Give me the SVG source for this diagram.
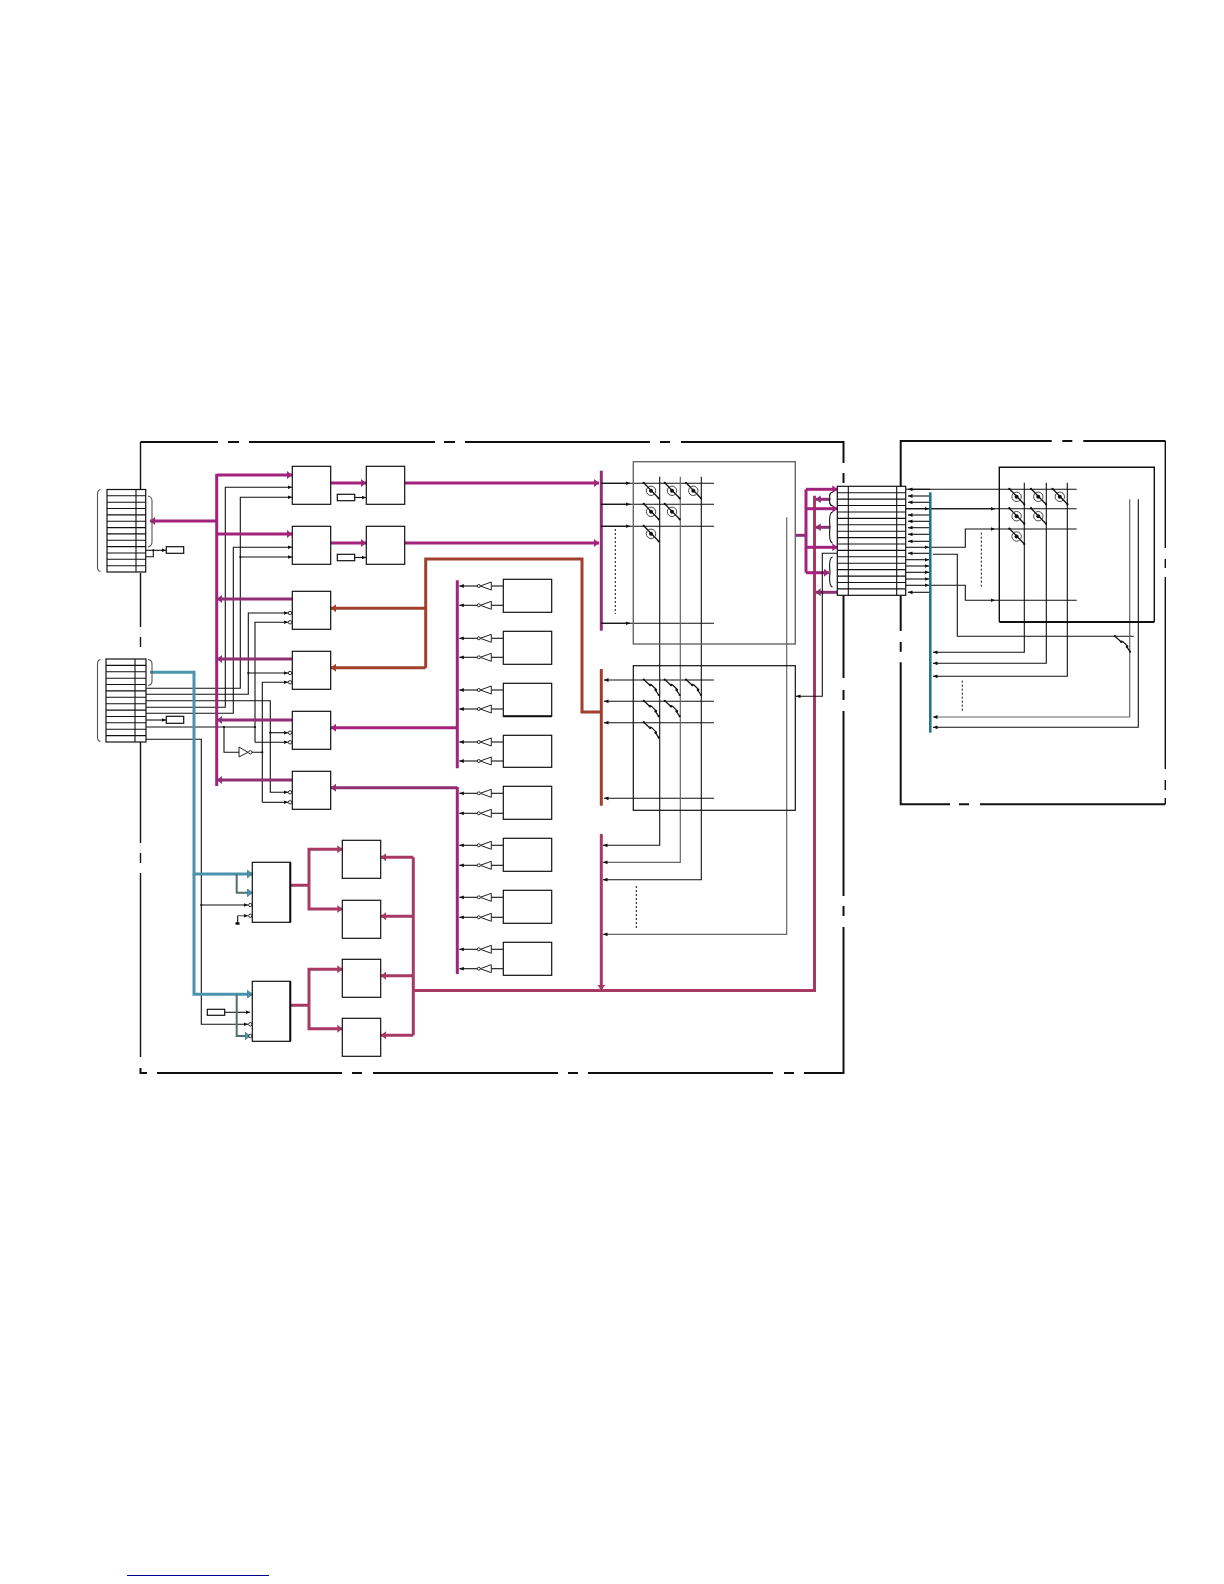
<svg xmlns="http://www.w3.org/2000/svg" width="1224" height="1584" viewBox="0 0 1224 1584">
<style>
.box{fill:#fff;stroke:#111;stroke-width:1.2}
.gbox{fill:none;stroke:#666;stroke-width:1.4}
.tbox{fill:none;stroke:#111;stroke-width:1.2}
.grid{fill:none;stroke:#111;stroke-width:1.1}
.frame{fill:none;stroke:#111;stroke-width:2}
.frt{fill:none;stroke:#111;stroke-width:1.4}
.brk{fill:none;stroke:#555;stroke-width:1.1}
.t{fill:none;stroke:#111;stroke-width:1.1}
.ta{fill:none;stroke:#111;stroke-width:1.1;marker-end:url(#ah)}
.tga{fill:none;stroke:#666;stroke-width:1.2;marker-end:url(#ah)}
.dot{fill:#111}
.bub{fill:#fff;stroke:#111;stroke-width:.9}
.m{fill:none;stroke:#a3237c;stroke-width:3}
.ma{fill:none;stroke:#a3237c;stroke-width:3;marker-end:url(#am)}
.md{fill:none;stroke:#8f2f74;stroke-width:3}
.mda{fill:none;stroke:#8f2f74;stroke-width:3;marker-end:url(#amd)}
.b{fill:none;stroke:#a0402c;stroke-width:3}
.ba{fill:none;stroke:#a0402c;stroke-width:3;marker-end:url(#ab)}
.r{fill:none;stroke:#a63a64;stroke-width:3}
.ra{fill:none;stroke:#a63a64;stroke-width:3;marker-end:url(#ar)}
.u{fill:none;stroke:#4a94ae;stroke-width:3}
.ua{fill:none;stroke:#4a94ae;stroke-width:3;marker-end:url(#au)}
.uga{fill:none;stroke:#4f6f72;stroke-width:2;marker-end:url(#au)}
.dash{fill:none;stroke:#111;stroke-width:1;stroke-dasharray:2 2}
.gate{fill:#fff;stroke:#222;stroke-width:1}
</style>
<defs>
<marker id="ah" markerUnits="userSpaceOnUse" markerWidth="5" markerHeight="5" refX="4.500" refY="2.500" orient="auto"><path d="M0 .6L4.500 2.500L0 4.400z" fill="#111"/></marker>
<marker id="am" markerUnits="userSpaceOnUse" markerWidth="6" markerHeight="8" refX="5" refY="4" orient="auto"><path d="M0 0L5 4L0 8z" fill="#a3237c"/></marker>
<marker id="amd" markerUnits="userSpaceOnUse" markerWidth="6" markerHeight="8" refX="5" refY="4" orient="auto"><path d="M0 0L5 4L0 8z" fill="#8f2f74"/></marker>
<marker id="ab" markerUnits="userSpaceOnUse" markerWidth="6" markerHeight="8" refX="5" refY="4" orient="auto"><path d="M0 0L5 4L0 8z" fill="#a0402c"/></marker>
<marker id="ar" markerUnits="userSpaceOnUse" markerWidth="6" markerHeight="8" refX="5" refY="4" orient="auto"><path d="M0 0L5 4L0 8z" fill="#a63a64"/></marker>
<marker id="au" markerUnits="userSpaceOnUse" markerWidth="6" markerHeight="8" refX="5" refY="4" orient="auto"><path d="M0 0L5 4L0 8z" fill="#4a94ae" stroke="#2f6070" stroke-width=".5"/></marker>
<g id="cell"><path d="M-16-.5L-1 15" fill="none" stroke="#111" stroke-width="1.300"/><circle cx="-8.700" cy="7.500" r="4.700" fill="none" stroke="#333" stroke-width=".9"/><circle cx="-8.700" cy="7.500" r="2" class="dot"/><circle cx="-16" cy="-.5" r="1.100" class="dot"/><circle cx="-1" cy="15" r="1.100" class="dot"/></g>
<g id="sw"><path d="M-16-.5L-9.500 5.500M-8.500 4.500L-3 10M-4 10.500L-1 15" fill="none" stroke="#111" stroke-width="1.200"/><circle cx="-9.500" cy="5" r="1.300" class="dot"/><circle cx="-4" cy="10" r="1.300" class="dot"/><circle cx="-16" cy="-.5" r="1.100" class="dot"/><circle cx="-1" cy="15" r="1.100" class="dot"/></g>
<g id="drv"><path d="M0 0H-12" class="t"/><path d="M-12-4V4L-23 0z" class="gate"/><circle cx="-24.500" cy="0" r="1.500" class="bub"/><path d="M-26 0H-44" class="ta"/></g>
<circle id="bb" r="1.700" class="bub"/>
<circle id="nd" r="1.100" class="dot"/>
</defs>

<g id="frames">
<path class="frame" d="M140.500 442H218M228 442H239M249 442H435M444 442H455M465 442H650M660 442H670M681 442H843.500V463M843.500 473V483M843.500 595V678M843.500 690V700M843.500 711V896M843.500 906V916M843.500 927V1073H804M794 1073H784M773 1073H588M578 1073H568M558 1073H373M362 1073H352M342 1073H157M147 1073H140.500V1068"/>
<path class="frt" d="M140.500 442V490M140.500 573V627M140.500 637V647M140.500 742V843M140.500 853V863M140.500 873V1057"/>
<path class="frame" d="M900.700 486V441H1051.700M1062.300 441H1072.300M1083.300 441H1165.500M900.700 595.700V631M900.700 642V651.700M900.700 662.300V804.300H950M959 804.300H969M980 804.300H1165.300"/>
<path class="frt" d="M1165.300 441V548M1165.300 559V568M1165.300 577V769M1165.300 780V790M1165.300 798V804.300"/>
<path d="M127 1575.500H269" fill="none" stroke="#00008b" stroke-width="1.200"/>
</g>

<g id="connectors">
<path class="ta" d="M146 688.300H240.300V497.300H292"/>
<path class="ta" d="M240.300 557H292"/>
<path class="ta" d="M146 694.300H248.300V613H288"/>
<path class="ta" d="M248.300 673H288"/>
<path class="ta" d="M146 700.700H270.300V792.300H288"/>
<path class="ta" d="M270.300 732.700H288"/>
<path class="ta" d="M146 707.300H225.300V487.300H292"/>
<path class="ta" d="M146 713.300H233.300V547.300H292"/>
<path class="ta" d="M146 720H166"/>
<path class="t" d="M146 727H255"/>
<path class="ta" d="M255 742.300V622.300H288"/>
<path class="ta" d="M255 742.300H288"/>
<path class="t" d="M224 727V752.300H239M252 752.300H262.300"/>
<path class="ta" d="M262.300 802.300V682.300H288"/>
<path class="ta" d="M262.300 802.300H288"/>
<path class="ta" d="M146 739.300H201.300V1024.300H248"/>
<path class="ta" d="M201.300 905H248"/>
<path class="ta" d="M146 550.300H166"/>
<path class="t" d="M146 556.700H153.300V550.300"/>
<path class="ta" d="M354.700 497.500H366"/>
<path class="ta" d="M354.700 557.500H366"/>
<path class="ta" d="M224.700 1012.300H250"/>
<path class="t" d="M237.700 923.300V915.700"/>
<path class="tga" d="M237.700 915.700H248"/>
<path d="M235.500 923.500H239.500" stroke="#111" stroke-width="2.500"/>
<path class="m" d="M216.700 474V786"/>
<path class="ma" d="M216.700 475H292"/>
<path class="ma" d="M216.700 534H292"/>
<path class="ma" d="M216.700 521H150"/>
<path class="mda" d="M292 599H217"/>
<path class="mda" d="M292 659H217"/>
<path class="mda" d="M292 720H217"/>
<path class="mda" d="M292 780H217"/>
<path class="ma" d="M330.700 483H366"/>
<path class="ma" d="M330.700 543H366"/>
<path class="ma" d="M404.700 483H599"/>
<path class="ma" d="M404.700 543H599"/>
<path class="ba" d="M425.700 608.300H331"/>
<path class="ba" d="M425.700 667.700H331"/>
<path class="b" d="M425.700 667.700V559H582V712H601"/>
<path class="ma" d="M457.300 727.700H331"/>
<path class="mda" d="M457.300 787.700H331"/>
<path class="m" d="M457.300 580.300V768.300M457.300 787V974"/>
<path class="md" d="M601.300 470.700V630.700"/>
<path class="b" d="M601.300 669V805.700"/>
<path class="ra" d="M601.300 834V990"/>
<path class="ua" d="M150 672.300H194V874H252.300"/>
<path class="ua" d="M194 874V994.300H252.300"/>
<path class="uga" d="M236.700 874V892.700H252.300"/>
<path class="uga" d="M236.700 994.300V1036H250"/>
<path class="r" d="M290 885.300H309M290 1005.300H309"/>
<path class="ra" d="M309 885.300V849.300H342.300"/>
<path class="ra" d="M309 885.300V909H342.300"/>
<path class="ra" d="M309 1005.300V969.300H342.300"/>
<path class="ra" d="M309 1005.300V1028.700H342.300"/>
<path class="ra" d="M413.300 857.300H381"/>
<path class="ra" d="M413.300 916.300H381"/>
<path class="ra" d="M413.300 975.700H381"/>
<path class="ra" d="M413.300 1035.300H381"/>
<path class="r" d="M413.300 857.300V1035.300M413.300 990.500H814.500V495.700"/>
<path class="t" d="M601 483.300H714M601 504.300H714M601 526.300H714M601 623.300H714"/>
<path class="ta" d="M601 483.300H630"/>
<path class="ta" d="M601 504.300H630"/>
<path class="ta" d="M601 526.300H630"/>
<path class="ta" d="M601 623.300H630"/>
<path class="dash" d="M615.300 529V614"/>
<path class="ta" d="M714 680H604"/>
<path class="ta" d="M714 701.300H604"/>
<path class="ta" d="M714 722.700H604"/>
<path class="ta" d="M714 798.300H604"/>
<path class="ta" d="M659.700 476.700V845.300H603"/>
<path class="tga" d="M680.300 476.700V862.300H603"/>
<path class="ta" d="M701.300 476.700V879.700H603"/>
<path class="tga" d="M786.700 517.300V934.300H603"/>
<path class="dash" d="M636.300 886V928"/>
<path class="md" d="M795 535.300H806"/>
<path class="m" d="M806 489.300V572.700"/>
<path class="ma" d="M806 489.300H837.300"/>
<path class="ma" d="M806 508.700H837.300"/>
<path class="ma" d="M806 547.300H837.300"/>
<path class="ma" d="M806 572.700H829"/>
<path class="mda" d="M830 499.300H815.700"/>
<path class="mda" d="M830 527.300H815.700"/>
<path class="mda" d="M837.300 592.300H815.700"/>
<path class="ta" d="M837.300 553.300H822.300V696.300H796"/>
<path class="t" d="M906 489.300H1076.700M906 508.700H1076.700"/>
<path class="ta" d="M930 489.300H908"/>
<path class="ta" d="M930 496H908"/>
<path class="ta" d="M930 502.300H908"/>
<path class="ta" d="M906 508.700H929"/>
<path class="ta" d="M929 508.700H995"/>
<path class="ta" d="M930 515H908"/>
<path class="ta" d="M930 521.300H908"/>
<path class="ta" d="M930 527.700H908"/>
<path class="ta" d="M930 534.300H908"/>
<path class="ta" d="M930 541.300H908"/>
<path class="ta" d="M906 547.300H929"/>
<path class="ta" d="M930 547.300H965.300V529H995"/>
<path class="t" d="M995 529H1076.700"/>
<path class="ta" d="M930 553.300H908"/>
<path class="t" d="M933 554.300H957.300V636.300H1133.700"/>
<path class="ta" d="M906 559.700H929"/>
<path class="ta" d="M906 566H929"/>
<path class="ta" d="M906 572.300H929"/>
<path class="ta" d="M906 579H929"/>
<path class="ta" d="M906 585.300H929"/>
<path class="ta" d="M930 585.300H965.300V600.300H995"/>
<path class="t" d="M995 600.300H1076.700"/>
<path class="ta" d="M930 592.300H908"/>
<path class="dash" d="M981.300 532.700V587.300"/>
<path class="dash" d="M962.300 680.700V710.700"/>
<path class="ta" d="M1024.300 482.700V652.300H933"/>
<path class="ta" d="M1046.300 482.700V663.300H933"/>
<path class="ta" d="M1067.300 482.700V676.300H933"/>
<path class="tga" d="M1129.700 499.300V717H933"/>
<path class="ta" d="M1138.300 499.300V727.300H933"/>
<path d="M930.300 492.300V732.700" fill="none" stroke="#1f6f90" stroke-width="2.500"/>
</g>

<g id="junctions">
<use href="#nd" x="240.300" y="557"/>
<use href="#nd" x="248.300" y="673"/>
<use href="#nd" x="270.300" y="732.700"/>
<use href="#nd" x="255" y="727"/>
<use href="#nd" x="224" y="727"/>
<use href="#nd" x="262.300" y="752.300"/>
<use href="#nd" x="201.300" y="905"/>
<use href="#nd" x="153.300" y="550.300"/>
</g>

<g id="conn-left-1">
<rect class="box" x="107" y="489.500" width="38.700" height="82.500"/>
<path class="grid" d="M136 489.500V572M107 495.800H145.700M107 502.200H145.700M107 508.500H145.700M107 514.900H145.700M107 521.200H145.700M107 527.600H145.700M107 533.900H145.700M107 540.300H145.700M107 546.600H145.700M107 553H145.700M107 559.300H145.700M107 565.700H145.700"/>
<path class="brk" d="M100.500 489.500Q97.500 490 97.500 494V567Q97.500 571 100.500 571.500M148 496Q152 497 152 501V542Q152 546 148 547"/>
</g>
<g id="conn-left-2">
<rect class="box" x="106" y="659" width="40" height="83"/>
<path class="grid" d="M135 659V742M106 665.400H146M106 671.800H146M106 678.200H146M106 684.500H146M106 690.900H146M106 697.300H146M106 703.700H146M106 710.100H146M106 716.500H146M106 722.800H146M106 729.200H146M106 735.600H146"/>
<path class="brk" d="M100.500 659.500Q97.500 660 97.500 664V737Q97.500 741 100.500 741.500M148 659.500Q152 660 152 664V681Q152 685 148 685.500"/>
</g>
<g id="conn-mid">
<rect class="box" x="837.300" y="486.300" width="68.400" height="109"/>
<path class="grid" d="M848.300 486.300V595.300M896.700 486.300V595.300M837.300 492.700H905.700M837.300 499.100H905.700M837.300 505.500H905.700M837.300 512H905.700M837.300 518.400H905.700M837.300 524.800H905.700M837.300 531.200H905.700M837.300 537.600H905.700M837.300 544H905.700M837.300 550.400H905.700M837.300 556.800H905.700M837.300 563.200H905.700M837.300 569.600H905.700M837.300 576.100H905.700M837.300 582.500H905.700M837.300 588.900H905.700"/>
<path class="t" d="M832.500 492Q828.500 493 830 499Q828.500 505 832.500 506M832.500 512Q828.500 513 830 527Q828.500 542 832.500 543M832.500 557Q828.500 558 830 572Q828.500 586 832.500 587"/>
</g>
<rect id="small-1" class="box" x="166.300" y="546.700" width="17.400" height="6.600" stroke-width="1.500"/>
<rect id="small-2" class="box" x="166.300" y="716.300" width="17.400" height="7"/>
<rect id="small-3" class="box" x="337.300" y="494.300" width="17.400" height="6.400"/>
<rect id="small-4" class="box" x="337.300" y="554.300" width="17.400" height="6.400"/>
<rect id="small-5" class="box" x="207.300" y="1009.300" width="17.400" height="6"/>
<rect id="box-a1" class="box" x="292.300" y="466.300" width="38.400" height="38"/>
<rect id="box-a2" class="box" x="292.300" y="526.300" width="38.400" height="38"/>
<rect id="box-a3" class="box" x="292.300" y="591.300" width="38.400" height="38"/>
<rect id="box-a4" class="box" x="292.300" y="651.300" width="38.400" height="38"/>
<rect id="box-a5" class="box" x="292.300" y="711.300" width="38.400" height="38"/>
<rect id="box-a6" class="box" x="292.300" y="771.300" width="38.400" height="38"/>
<rect id="box-b1" class="box" x="366.300" y="466.300" width="38.400" height="38"/>
<rect id="box-b2" class="box" x="366.300" y="526.300" width="38.400" height="38"/>
<g id="bubbles">
<use href="#bb" x="290" y="613"/><use href="#bb" x="290" y="622.300"/><use href="#bb" x="290" y="673"/><use href="#bb" x="290" y="682.300"/><use href="#bb" x="290" y="732.700"/><use href="#bb" x="290" y="742.300"/><use href="#bb" x="290" y="792.300"/><use href="#bb" x="290" y="802.300"/><use href="#bb" x="250.300" y="905"/><use href="#bb" x="250.300" y="915.700"/><use href="#bb" x="250.300" y="1024.300"/><use href="#bb" x="250.300" y="1036"/>
</g>
<g id="inverter"><path class="gate" d="M239 747V757L248 752.300z"/><circle class="bub" cx="250.300" cy="752.300" r="1.700"/></g>
<g id="big-1"><rect class="box" x="252.300" y="862.300" width="38" height="60"/><path d="M290.300 862.300V922.300" stroke="#111" stroke-width="2"/></g>
<g id="big-2"><rect class="box" x="252.300" y="981.300" width="38" height="60"/><path d="M290.300 981.300V1041.300" stroke="#111" stroke-width="2"/></g>
<rect id="box-c1" class="box" x="342.300" y="840.300" width="38.400" height="38"/>
<rect id="box-c2" class="box" x="342.300" y="900.300" width="38.400" height="38"/>
<rect id="box-c3" class="box" x="342.300" y="959.300" width="38.400" height="38"/>
<rect id="box-c4" class="box" x="342.300" y="1018.300" width="38.400" height="38"/>

<g id="gates">
<use href="#drv" x="503.300" y="586"/><use href="#drv" x="503.300" y="605.300"/>
<use href="#drv" x="503.300" y="638.300"/><use href="#drv" x="503.300" y="657.300"/>
<use href="#drv" x="503.300" y="690"/><use href="#drv" x="503.300" y="709"/>
<use href="#drv" x="503.300" y="742"/><use href="#drv" x="503.300" y="761"/>
<use href="#drv" x="503.300" y="793.300"/><use href="#drv" x="503.300" y="813.300"/>
<use href="#drv" x="503.300" y="845.300"/><use href="#drv" x="503.300" y="865.300"/>
<use href="#drv" x="503.300" y="897.300"/><use href="#drv" x="503.300" y="917.300"/>
<use href="#drv" x="503.300" y="949.300"/><use href="#drv" x="503.300" y="968.700"/>
</g>
<rect id="mem-1" class="box" x="503.300" y="579.300" width="48.400" height="33"/>
<rect id="mem-2" class="box" x="503.300" y="631.300" width="48.400" height="33"/>
<g id="mem-3"><rect class="box" x="503.300" y="683.300" width="48.400" height="33"/><path d="M503.300 716.300H551.700" stroke="#111" stroke-width="2"/></g>
<rect id="mem-4" class="box" x="503.300" y="735.300" width="48.400" height="32"/>
<rect id="mem-5" class="box" x="503.300" y="786.300" width="48.400" height="33"/>
<rect id="mem-6" class="box" x="503.300" y="838.300" width="48.400" height="33"/>
<rect id="mem-7" class="box" x="503.300" y="890.300" width="48.400" height="33"/>
<rect id="mem-8" class="box" x="503.300" y="942.300" width="48.400" height="33"/>

<g id="array-upper">
<rect class="gbox" x="633.300" y="461.700" width="162" height="182.300"/>
<use href="#cell" x="659.700" y="483.300"/><use href="#cell" x="680.700" y="483.300"/><use href="#cell" x="702" y="483.300"/>
<use href="#cell" x="659.700" y="504.300"/><use href="#cell" x="680.700" y="504.300"/>
<use href="#cell" x="659.700" y="526.300"/>
</g>
<g id="array-lower">
<rect class="tbox" x="633.300" y="665.700" width="162" height="144.600"/>
<use href="#sw" x="659.700" y="680"/><use href="#sw" x="680.700" y="680"/><use href="#sw" x="702" y="680"/>
<use href="#sw" x="659.700" y="701.300"/><use href="#sw" x="680.700" y="701.300"/>
<use href="#sw" x="659.700" y="722.700"/>
</g>
<g id="array-right">
<path class="frt" d="M999.300 622V467.300H1154.300V622"/>
<path d="M999.300 622H1154.300" fill="none" stroke="#111" stroke-width="2"/>
<use href="#cell" x="1025.300" y="489.300"/><use href="#cell" x="1047" y="489.300"/><use href="#cell" x="1068.500" y="489.300"/>
<use href="#cell" x="1025.300" y="508.700"/><use href="#cell" x="1047" y="508.700"/>
<use href="#cell" x="1025.300" y="529"/>
<use href="#sw" x="1131" y="636.700"/>
</g>
</svg>
